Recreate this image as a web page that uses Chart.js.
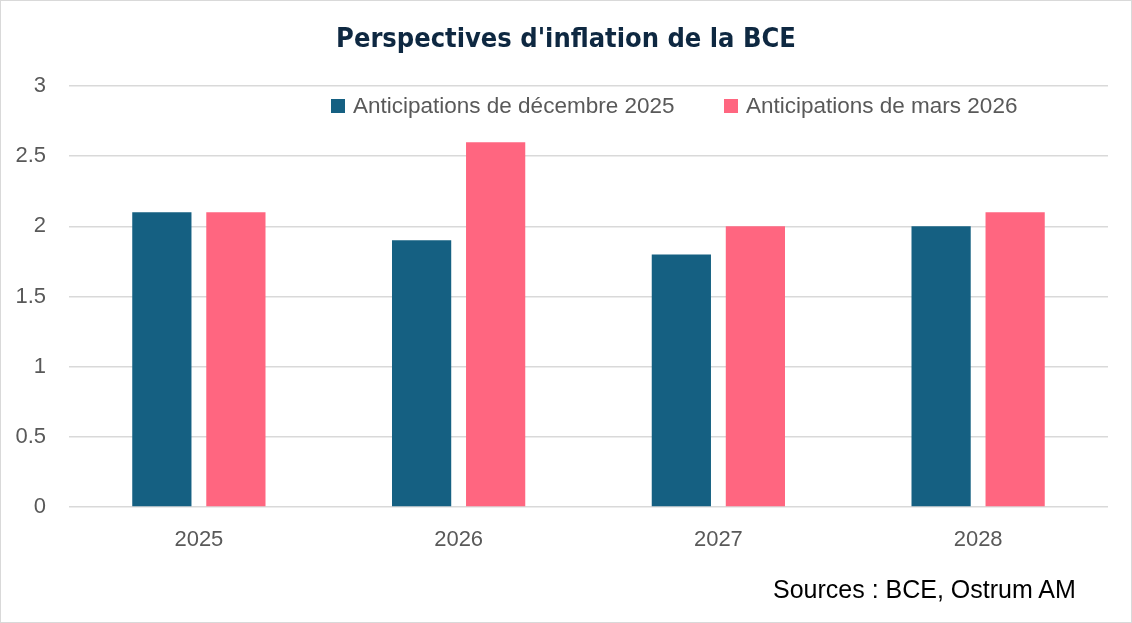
<!DOCTYPE html>
<html><head><meta charset="utf-8">
<script src="https://cdn.jsdelivr.net/npm/chart.js@4"></script>
<style>
html,body{margin:0;padding:0;background:#fff;}
#wrap{position:relative;width:1132px;height:623px;overflow:hidden;}
#frame{position:absolute;left:0;top:0;width:1132px;height:623px;box-sizing:border-box;border:1px solid #d9d9d9;pointer-events:none;}
#title{position:absolute;left:0;top:22px;width:1132px;text-align:center;line-height:32px;font-family:"Liberation Sans Narrow","DejaVu Sans Condensed",Roboto,sans-serif;font-weight:bold;font-size:27px;color:#0E2841;white-space:nowrap;}
.leg{position:absolute;top:94px;height:24px;display:flex;align-items:center;font-family:"Liberation Sans","Noto Sans",sans-serif;font-size:22.5px;color:#595959;white-space:nowrap;}
.sw{width:14px;height:14px;margin-right:8px;flex:none;}
#src{position:absolute;left:773px;top:575px;font-family:"Liberation Sans",Arial,sans-serif;font-size:25px;color:#000;white-space:nowrap;}
</style>
</head><body>
<div id="wrap">
<canvas id="c" width="1132" height="623"></canvas>
<div id="title"></div>
<div id="legend"></div>
<div id="src"></div>
<div id="frame"></div>
</div>
<script>
const titleText = "Perspectives d'inflation de la BCE";
const sourceText = "Sources : BCE, Ostrum AM";
const categories = ['2025', '2026', '2027', '2028'];
const seriesNames = ['Anticipations de décembre 2025', 'Anticipations de mars 2026'];
const decembre2025 = [2.1, 1.9, 1.8, 2.0];
const mars2026 = [2.1, 2.6, 2.0, 2.1];
const seriesColors = ['#156082', '#FF6680'];
const yMin = 0, yMax = 3, yStep = 0.5;

document.getElementById('title').textContent = titleText;
const legendLefts = [331, 724];
const legend = document.getElementById('legend');
seriesNames.forEach((n, i) => {
  const d = document.createElement('div');
  d.className = 'leg';
  d.style.left = legendLefts[i] + 'px';
  const sw = document.createElement('span');
  sw.className = 'sw';
  sw.style.background = seriesColors[i];
  const t = document.createElement('span');
  t.textContent = n;
  d.appendChild(sw); d.appendChild(t);
  legend.appendChild(d);
});
document.getElementById('src').textContent = sourceText;

new Chart(document.getElementById('c'), {
  type: 'bar',
  data: {
    labels: categories,
    datasets: [
      { label: seriesNames[0], data: decembre2025, backgroundColor: seriesColors[0], borderWidth: 0 },
      { label: seriesNames[1], data: mars2026, backgroundColor: seriesColors[1], borderWidth: 0 }
    ]
  },
  options: {
    responsive: false,
    animation: false,
    categoryPercentage: 0.57,
    barPercentage: 0.8,
    layout: { padding: { left: 0, right: 24, top: 86, bottom: 66 } },
    plugins: {
      legend: { display: false },
      tooltip: { enabled: false },
      title: { display: false }
    },
    scales: {
      x: {
        grid: { display: false },
        border: { display: false },
        ticks: { color: '#595959', font: { family: '"Liberation Sans",Arial,sans-serif', size: 22 }, padding: 12 },
        afterFit: s => { s.height = 50; }
      },
      y: {
        min: yMin, max: yMax,
        ticks: {
          stepSize: yStep, color: '#595959',
          font: { family: '"Liberation Sans",Arial,sans-serif', size: 22 }, padding: 23,
          callback: v => String(Math.round(v * 10) / 10)
        },
        grid: { color: '#D9D9D9', lineWidth: 1.5, drawTicks: false },
        border: { display: false },
        afterFit: s => { s.width = 69; }
      }
    }
  }
});
</script>
</body></html>
